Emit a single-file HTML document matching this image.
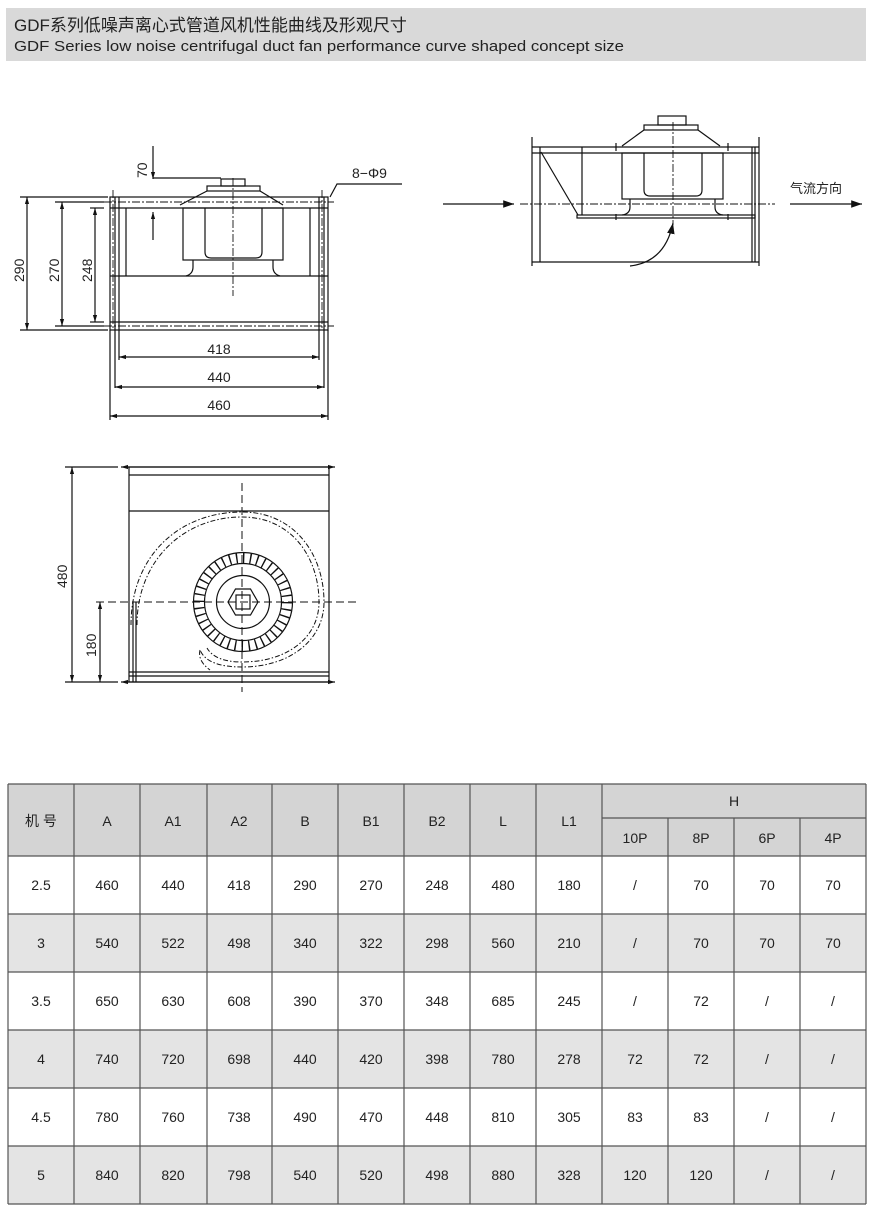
<!DOCTYPE html>
<html><head><meta charset="utf-8"><style>
html,body{margin:0;padding:0;background:#fff;}
svg{display:block;}
text{font-family:"Liberation Sans","Noto Sans CJK SC",sans-serif;fill:#222;}
</style></head><body>
<svg width="870" height="1215" viewBox="0 0 870 1215" xmlns="http://www.w3.org/2000/svg">
<defs>
<marker id="a" viewBox="0 0 10 10" refX="10" refY="5" markerWidth="6" markerHeight="6" orient="auto-start-reverse"><path d="M0,2 L10,5 L0,8 z" fill="#111"/></marker>
<marker id="b" viewBox="0 0 10 10" refX="10" refY="5" markerWidth="9" markerHeight="9" orient="auto"><path d="M0,1.5 L10,5 L0,8.5 z" fill="#111"/></marker>
</defs>
<!-- header -->
<rect x="6" y="8" width="860" height="53" fill="#d9d9d9"/>
<text x="14" y="31" font-size="17" fill="#111">GDF系列低噪声离心式管道风机性能曲线及形观尺寸</text>
<text x="14" y="51" font-size="14.5" fill="#111" textLength="610" lengthAdjust="spacingAndGlyphs">GDF Series low noise centrifugal duct fan performance curve shaped concept size</text>

<g stroke="#111" fill="none" stroke-width="1.2">
<!-- front view -->
<rect x="110" y="197" width="218" height="133"/>
<line x1="115" y1="197" x2="115" y2="388"/><line x1="119" y1="197" x2="119" y2="360"/>
<line x1="324" y1="197" x2="324" y2="388"/><line x1="319" y1="197" x2="319" y2="360"/>
<line x1="110" y1="330" x2="110" y2="420"/><line x1="328" y1="330" x2="328" y2="420"/>
<line x1="110" y1="208" x2="328" y2="208"/>
<line x1="110" y1="322" x2="328" y2="322"/>
<line x1="110" y1="276" x2="328" y2="276"/>
<line x1="126" y1="208" x2="126" y2="276"/><line x1="310" y1="208" x2="310" y2="276"/>
<g stroke-dasharray="8 2 2 2" stroke-width="0.9">
<line x1="104" y1="202" x2="334" y2="202"/><line x1="104" y1="326" x2="334" y2="326"/>
<line x1="113" y1="190" x2="113" y2="330"/><line x1="322" y1="190" x2="322" y2="330"/>
<line x1="233" y1="178" x2="233" y2="296"/>
</g>
<rect x="221" y="179" width="24" height="7"/>
<rect x="207" y="186" width="53" height="5"/>
<path d="M180,205 L207,191 M283,205 L260,191"/>
<rect x="183" y="208" width="100" height="52"/>
<path d="M205,208 V252 Q205,258 211,258 H256 Q262,258 262,252 V208"/>
<path d="M193,260 V267 Q193,274 186,276 M273,260 V267 Q273,274 280,276"/>
<!-- dims -->
<line x1="20" y1="197" x2="108" y2="197"/><line x1="20" y1="330" x2="108" y2="330"/>
<line x1="55" y1="202" x2="104" y2="202"/><line x1="55" y1="326" x2="104" y2="326"/>
<line x1="90" y1="208" x2="104" y2="208"/><line x1="90" y1="322" x2="104" y2="322"/>
<line x1="27" y1="197" x2="27" y2="330" marker-start="url(#a)" marker-end="url(#a)"/>
<line x1="62" y1="202" x2="62" y2="326" marker-start="url(#a)" marker-end="url(#a)"/>
<line x1="95" y1="208" x2="95" y2="322" marker-start="url(#a)" marker-end="url(#a)"/>
<line x1="119" y1="357" x2="319" y2="357" marker-start="url(#a)" marker-end="url(#a)"/>
<line x1="115" y1="387" x2="324" y2="387" marker-start="url(#a)" marker-end="url(#a)"/>
<line x1="110" y1="416" x2="328" y2="416" marker-start="url(#a)" marker-end="url(#a)"/>
<line x1="153" y1="146" x2="153" y2="179" marker-end="url(#a)"/>
<line x1="153" y1="240" x2="153" y2="212" marker-end="url(#a)"/>
<line x1="153" y1="178" x2="221" y2="178"/>
<path d="M330,197 L337,184 L402,184"/>

<!-- side view -->
<line x1="532" y1="137" x2="532" y2="266"/><line x1="540" y1="147" x2="540" y2="262"/>
<line x1="752" y1="147" x2="752" y2="262"/><line x1="755" y1="147" x2="755" y2="262"/><line x1="759" y1="137" x2="759" y2="266"/>
<line x1="532" y1="147" x2="759" y2="147"/><line x1="532" y1="153" x2="759" y2="153"/>
<line x1="532" y1="262" x2="759" y2="262"/>
<rect x="577" y="215" width="178" height="3"/>
<line x1="541" y1="152" x2="578" y2="215"/>
<line x1="582" y1="147" x2="582" y2="215"/>
<rect x="622" y="153" width="101" height="46"/>
<path d="M644,153 V190 Q644,196 650,196 H696 Q702,196 702,190 V153"/>
<path d="M630,199 V207 Q630,214 622,215 M715,199 V207 Q715,214 723,215"/>
<rect x="658" y="116" width="28" height="9"/>
<rect x="644" y="125" width="54" height="5"/>
<path d="M622,146 L644,130 M720,146 L698,130"/>
<line x1="616" y1="143" x2="616" y2="151"/><line x1="728" y1="143" x2="728" y2="151"/>
<line x1="616" y1="214" x2="616" y2="220"/><line x1="728" y1="214" x2="728" y2="220"/>
<line x1="673" y1="122" x2="673" y2="225" stroke-dasharray="8 2 2 2" stroke-width="0.9"/>
<line x1="520" y1="204" x2="775" y2="204" stroke-dasharray="8 2 2 2" stroke-width="0.9"/>
<line x1="443" y1="204" x2="514" y2="204" marker-end="url(#b)"/>
<line x1="790" y1="204" x2="862" y2="204" marker-end="url(#b)"/>
<path d="M630,266 Q665,262 673,223" marker-end="url(#b)"/>

<!-- plan view -->
<rect x="129" y="467" width="200" height="215"/>
<line x1="129" y1="475" x2="329" y2="475"/><line x1="129" y1="511" x2="329" y2="511"/>
<line x1="129" y1="672" x2="329" y2="672"/><line x1="129" y1="676" x2="329" y2="676"/>
<line x1="133" y1="602" x2="133" y2="682"/><line x1="136" y1="602" x2="136" y2="682"/>
<line x1="65" y1="467" x2="118" y2="467"/><line x1="65" y1="682" x2="118" y2="682"/>
<line x1="121" y1="467" x2="335" y2="467" marker-start="url(#a)" marker-end="url(#a)"/>
<line x1="121" y1="682" x2="335" y2="682" marker-start="url(#a)" marker-end="url(#a)"/>
<line x1="72" y1="467" x2="72" y2="682" marker-start="url(#a)" marker-end="url(#a)"/>
<line x1="100" y1="602" x2="100" y2="682" marker-start="url(#a)" marker-end="url(#a)"/>
<g stroke-dasharray="8 4" stroke-width="1">
<line x1="96" y1="602" x2="357" y2="602"/>
<line x1="242" y1="483" x2="242" y2="692"/>
</g>
<g stroke-dasharray="5 2 1.5 2" stroke-width="1">
<path d="M131,625 C131,555 180,512 242,512 C295,512 324,555 324,602 C324,640 290,667 242,667 C220,667 205,662 200,650"/>
<path d="M137,625 C137,560 184,517 242,517 C292,517 319,558 319,602 C319,637 288,662 242,662 C224,662 212,657 207,648"/>
<path d="M200,650 C198,658 203,665 210,670"/>
</g>
<circle cx="243" cy="602" r="49.5"/>
<circle cx="243" cy="602" r="38.5"/>
<circle cx="243" cy="602" r="44" stroke-width="10" stroke-dasharray="1.4 5.5"/>
<circle cx="243" cy="602" r="26.5"/>
<polygon points="258,602 250.5,615 235.5,615 228,602 235.5,589 250.5,589"/>
<rect x="236" y="595" width="14" height="14"/>
</g>
<text x="147" y="178" font-size="14" transform="rotate(-90 147 178)">70</text>
<text x="352" y="178" font-size="14">8−Φ9</text>
<text x="24" y="282" font-size="14" transform="rotate(-90 24 282)">290</text>
<text x="59" y="282" font-size="14" transform="rotate(-90 59 282)">270</text>
<text x="92" y="282" font-size="14" transform="rotate(-90 92 282)">248</text>
<text x="219" y="354" font-size="14" text-anchor="middle">418</text>
<text x="219" y="382" font-size="14" text-anchor="middle">440</text>
<text x="219" y="410" font-size="14" text-anchor="middle">460</text>
<text x="790" y="193" font-size="13">气流方向</text>
<text x="67" y="588" font-size="14" transform="rotate(-90 67 588)">480</text>
<text x="96" y="657" font-size="14" transform="rotate(-90 96 657)">180</text>

<!-- table -->
<rect x="8" y="784" width="858" height="72" fill="#d4d4d4"/>
<rect x="8" y="914" width="858" height="58" fill="#e4e4e4"/>
<rect x="8" y="1030" width="858" height="58" fill="#e4e4e4"/>
<rect x="8" y="1146" width="858" height="58" fill="#e4e4e4"/>
<g stroke="#555" stroke-width="1.2">
<line x1="8" y1="784" x2="866" y2="784"/>
<line x1="602" y1="818" x2="866" y2="818"/>
<line x1="8" y1="856" x2="866" y2="856"/><line x1="8" y1="914" x2="866" y2="914"/>
<line x1="8" y1="972" x2="866" y2="972"/><line x1="8" y1="1030" x2="866" y2="1030"/>
<line x1="8" y1="1088" x2="866" y2="1088"/><line x1="8" y1="1146" x2="866" y2="1146"/>
<line x1="8" y1="1204" x2="866" y2="1204"/>
<line x1="8" y1="784" x2="8" y2="1204"/><line x1="866" y1="784" x2="866" y2="1204"/>
<line x1="74" y1="784" x2="74" y2="1204"/><line x1="140" y1="784" x2="140" y2="1204"/>
<line x1="207" y1="784" x2="207" y2="1204"/><line x1="272" y1="784" x2="272" y2="1204"/>
<line x1="338" y1="784" x2="338" y2="1204"/><line x1="404" y1="784" x2="404" y2="1204"/>
<line x1="470" y1="784" x2="470" y2="1204"/><line x1="536" y1="784" x2="536" y2="1204"/>
<line x1="602" y1="784" x2="602" y2="1204"/>
<line x1="668" y1="818" x2="668" y2="1204"/><line x1="734" y1="818" x2="734" y2="1204"/>
<line x1="800" y1="818" x2="800" y2="1204"/>
</g>
<g font-size="14" text-anchor="middle" fill="#333">
<text x="41" y="826">机 号</text><text x="107" y="826">A</text><text x="173" y="826">A1</text><text x="239" y="826">A2</text><text x="305" y="826">B</text><text x="371" y="826">B1</text><text x="437" y="826">B2</text><text x="503" y="826">L</text><text x="569" y="826">L1</text>
<text x="734" y="806">H</text>
<text x="635" y="843">10P</text><text x="701" y="843">8P</text><text x="767" y="843">6P</text><text x="833" y="843">4P</text>
</g>
<g font-size="14" text-anchor="middle" fill="#444">
<text y="890"><tspan x="41">2.5</tspan><tspan x="107">460</tspan><tspan x="173">440</tspan><tspan x="239">418</tspan><tspan x="305">290</tspan><tspan x="371">270</tspan><tspan x="437">248</tspan><tspan x="503">480</tspan><tspan x="569">180</tspan><tspan x="635">/</tspan><tspan x="701">70</tspan><tspan x="767">70</tspan><tspan x="833">70</tspan></text>
<text y="948"><tspan x="41">3</tspan><tspan x="107">540</tspan><tspan x="173">522</tspan><tspan x="239">498</tspan><tspan x="305">340</tspan><tspan x="371">322</tspan><tspan x="437">298</tspan><tspan x="503">560</tspan><tspan x="569">210</tspan><tspan x="635">/</tspan><tspan x="701">70</tspan><tspan x="767">70</tspan><tspan x="833">70</tspan></text>
<text y="1006"><tspan x="41">3.5</tspan><tspan x="107">650</tspan><tspan x="173">630</tspan><tspan x="239">608</tspan><tspan x="305">390</tspan><tspan x="371">370</tspan><tspan x="437">348</tspan><tspan x="503">685</tspan><tspan x="569">245</tspan><tspan x="635">/</tspan><tspan x="701">72</tspan><tspan x="767">/</tspan><tspan x="833">/</tspan></text>
<text y="1064"><tspan x="41">4</tspan><tspan x="107">740</tspan><tspan x="173">720</tspan><tspan x="239">698</tspan><tspan x="305">440</tspan><tspan x="371">420</tspan><tspan x="437">398</tspan><tspan x="503">780</tspan><tspan x="569">278</tspan><tspan x="635">72</tspan><tspan x="701">72</tspan><tspan x="767">/</tspan><tspan x="833">/</tspan></text>
<text y="1122"><tspan x="41">4.5</tspan><tspan x="107">780</tspan><tspan x="173">760</tspan><tspan x="239">738</tspan><tspan x="305">490</tspan><tspan x="371">470</tspan><tspan x="437">448</tspan><tspan x="503">810</tspan><tspan x="569">305</tspan><tspan x="635">83</tspan><tspan x="701">83</tspan><tspan x="767">/</tspan><tspan x="833">/</tspan></text>
<text y="1180"><tspan x="41">5</tspan><tspan x="107">840</tspan><tspan x="173">820</tspan><tspan x="239">798</tspan><tspan x="305">540</tspan><tspan x="371">520</tspan><tspan x="437">498</tspan><tspan x="503">880</tspan><tspan x="569">328</tspan><tspan x="635">120</tspan><tspan x="701">120</tspan><tspan x="767">/</tspan><tspan x="833">/</tspan></text>
</g>
</svg>
</body></html>
